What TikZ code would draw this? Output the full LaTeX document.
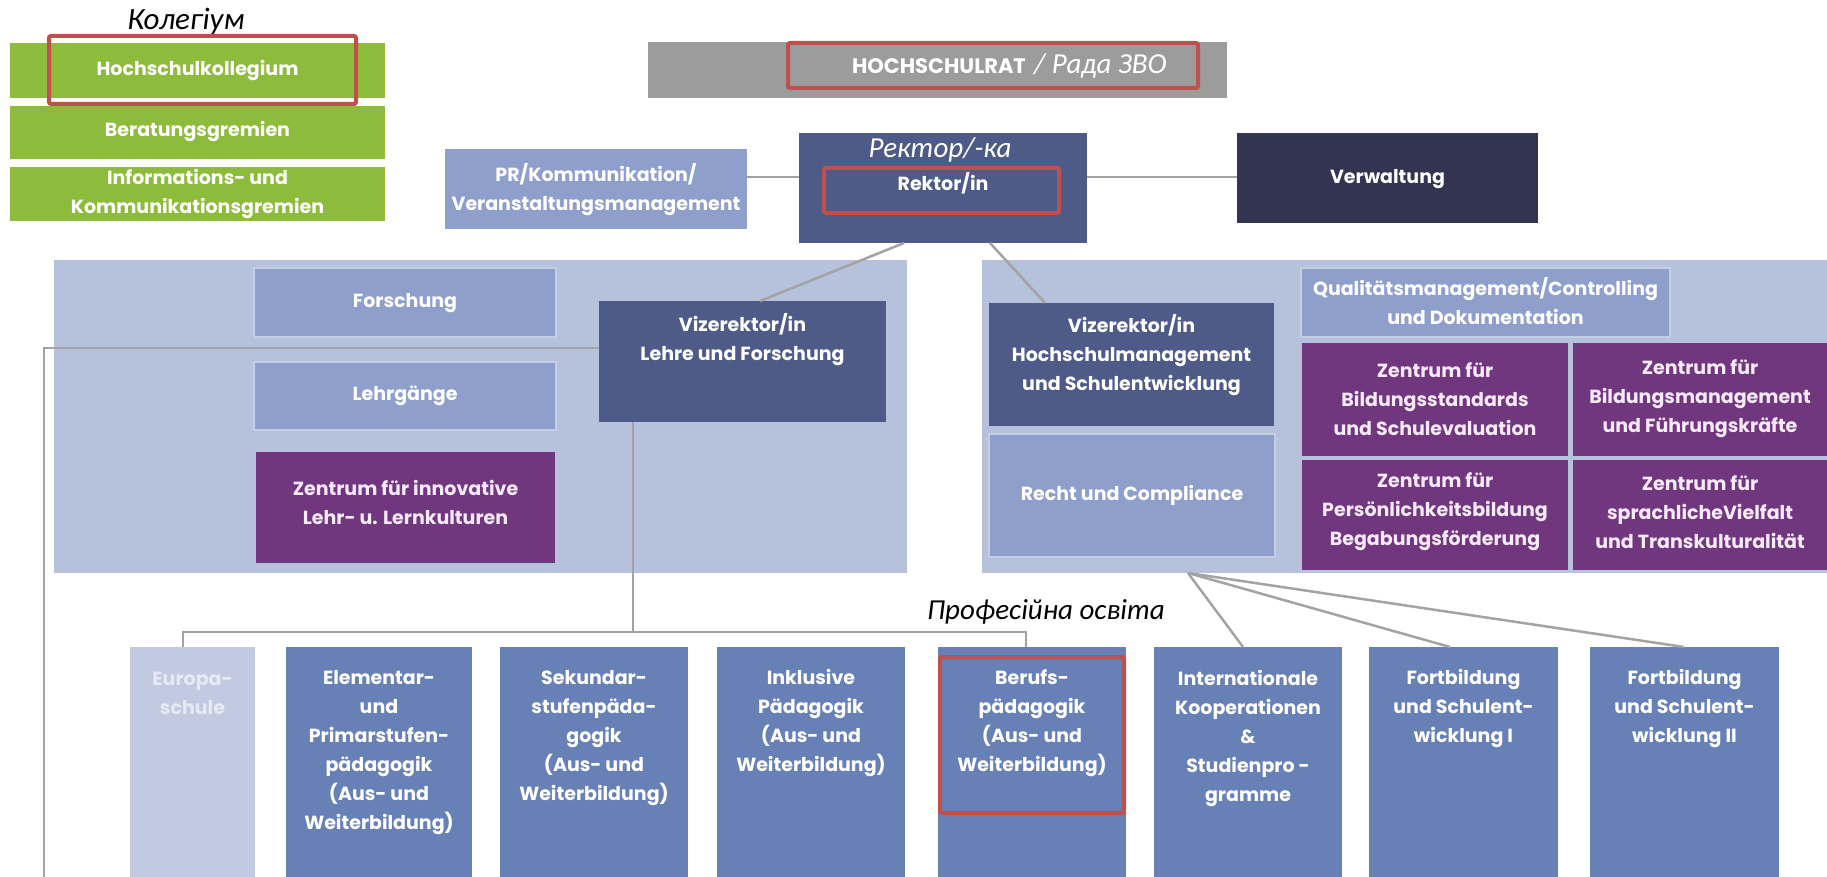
\documentclass[tikz,border=0pt]{standalone}
\usepackage{fontspec}
\setmainfont{Poppins}
\newfontfamily\ukfont{Carlito}
\usetikzlibrary{calc}
\definecolor{cgreen}{HTML}{8DBB3B}
\definecolor{cgrey}{HTML}{9C9C9C}
\definecolor{cpanel}{HTML}{B6C1DB}
\definecolor{clight}{HTML}{8D9FCA}
\definecolor{cedge}{HTML}{C6CEE5}
\definecolor{cdark}{HTML}{4E5B88}
\definecolor{cnavy}{HTML}{323450}
\definecolor{cpurple}{HTML}{70377F}
\definecolor{cmid}{HTML}{6781B7}
\definecolor{ceuro}{HTML}{C2CAE1}
\definecolor{ceurotext}{HTML}{E6EAF4}
\definecolor{cpink}{HTML}{F8EAF8}
\definecolor{cred}{HTML}{C0504D}
\definecolor{cline}{HTML}{A3A3A3}
\newcommand\bx[6]{\node[rectangle,#6,minimum width={(#4-#2)*1pt},minimum height={(#5-#3)*1pt}] (#1) at ({(#2+#4)/2},{(#3+#5)/2}) {};}
\newcommand\bxt[8]{\bx{#1}{#2}{#3}{#4}{#5}{#6}\node[#6,txt] (#1t) at ({(#2+#4)/2},#7) {#8};}
\begin{document}
\begin{tikzpicture}[x=1pt,y=-1pt,
  every node/.style={inner sep=0pt,outer sep=0pt,text=white},
  txt/.style={align=center,font=\bfseries\fontsize{19}{29}\selectfont,fill=none,draw=none},
  uk/.style={font=\ukfont\itshape\fontsize{29}{34}\selectfont,text=black},
  green/.style={fill=cgreen},
  light/.style={fill=clight},
  lightb/.style={fill=clight,draw=cedge,line width=2pt},
  dark/.style={fill=cdark},
  purple/.style={fill=cpurple,text=cpink},
  mid/.style={fill=cmid},
  euro/.style={fill=ceuro,text=ceurotext},
  frame/.style={draw=cred,line width=4pt,rounded corners=2pt},
  conn/.style={draw=cline,line width=2.5pt}]
\useasboundingbox (0,0) rectangle (1827,877);
\fill[white] (0,0) rectangle (1827,877);
% panels
\bx{lp}{54}{260}{907}{573}{fill=cpanel}
\bx{rp}{982}{260}{1827}{573}{fill=cpanel}
% top row
\bxt{g1}{10}{43}{385}{98}{green}{71}{Hochschulkollegium}
\bxt{g2}{10}{106}{385}{159}{green}{132}{Beratungsgremien}
\bxt{g3}{10}{167}{385}{221}{green}{194}{Informations- und\\Kommunikationsgremien}
\bx{hr}{648}{42}{1227}{98}{fill=cgrey}
\node[anchor=west,text=white] (hrt) at (852,66) {{\bfseries\fontsize{21}{24}\selectfont HOCHSCHULRAT}\,{\ukfont\itshape\fontsize{29}{34}\selectfont\ / Рада ЗВО}};
\bxt{pr}{445}{149}{747}{229}{light}{190}{PR/Kommunikation/\\Veranstaltungsmanagement}
\bxt{rek}{799}{133}{1087}{243}{dark}{183}{Rektor/in}
\bxt{verw}{1237}{133}{1538}{223}{fill=cnavy}{179}{Verwaltung}
% left panel
\bxt{fo}{254}{268}{556}{337}{lightb}{303}{Forschung}
\bxt{lg}{254}{362}{556}{430}{lightb}{396}{Lehrgänge}
\bxt{zi}{256}{452}{555}{563}{purple}{502}{Zentrum für innovative\\Lehr- u. Lernkulturen}
\bxt{vl}{599}{301}{886}{422}{dark}{340}{Vizerektor/in\\Lehre und Forschung}
% right panel
\bxt{vhm}{989}{303}{1274}{426}{dark}{355}{Vizerektor/in\\Hochschulmanagement\\und Schulentwicklung}
\bxt{rc}{989}{434}{1275}{557}{lightb}{495}{Recht und Compliance}
\bxt{qm}{1301}{268}{1670}{337}{lightb}{301}{Qualitätsmanagement/Controlling\\und Dokumentation}
\bxt{za}{1302}{343}{1568}{456}{purple}{399}{Zentrum für\\Bildungsstandards\\und Schulevaluation}
\bxt{zb}{1573}{343}{1827}{456}{purple}{399}{Zentrum für\\Bildungsmanagement\\und Führungskräfte}
\bxt{zc}{1302}{460}{1568}{570}{purple}{512}{Zentrum für\\Persönlichkeitsbildung\\Begabungsförderung}
\bxt{zd}{1573}{460}{1827}{570}{purple}{512}{Zentrum für\\sprachlicheVielfalt\\und Transkulturalität}
% bottom row
\bxt{eu}{130}{647}{255}{877}{euro}{693}{Europa-\\schule}
\bxt{el}{286}{647}{472}{877}{mid}{753}{Elementar-\\und\\Primarstufen-\\pädagogik\\(Aus- und\\Weiterbildung)}
\bxt{se}{500}{647}{688}{877}{mid}{738}{Sekundar-\\stufenpäda-\\gogik\\(Aus- und\\Weiterbildung)}
\bxt{ik}{717}{647}{905}{877}{mid}{723}{Inklusive\\Pädagogik\\(Aus- und\\Weiterbildung)}
\bxt{bp}{938}{647}{1126}{877}{mid}{723}{Berufs-\\pädagogik\\(Aus- und\\Weiterbildung)}
\bxt{int}{1154}{647}{1342}{877}{mid}{738}{Internationale\\Kooperationen\\\&\\Studienpro -\\gramme}
\bxt{f1}{1369}{647}{1558}{877}{mid}{708}{Fortbildung\\und Schulent-\\wicklung I}
\bxt{f2}{1590}{647}{1779}{877}{mid}{708}{Fortbildung\\und Schulent-\\wicklung II}
% connectors
\coordinate (yl) at (0,177);
\draw[conn] (pr.east |- yl) -- (rek.west |- yl);
\draw[conn] (rek.east |- yl) -- (verw.west |- yl);
\coordinate (vla) at (760,301);
\coordinate (vhma) at (1045,303);
\draw[conn] ($(rek.south west)+(105,0)$) -- (vla);
\draw[conn] ($(rek.south west)+(191,0)$) -- (vhma);
\coordinate (lt) at (44,348);
\coordinate (lb) at (44,877);
\draw[conn] (vl.west |- lt) -- (lt) -- (lb);
\coordinate (vlb) at (633,422);
\coordinate (busL) at (183,632);
\coordinate (busR) at (1026,632);
\draw[conn] (vlb) -- (vlb |- busL);
\draw[conn] (eu.north -| busL) -- (busL) -- (busR) -- (bp.north -| busR);
\coordinate (fan) at (1188,573);
\draw[conn] (fan) -- ($(int.north west)+(89,0)$);
\draw[conn] (fan) -- ($(f1.north west)+(81,0)$);
\draw[conn] (fan) -- ($(f2.north west)+(94,0)$);
% annotations
\node[uk,font=\ukfont\itshape\fontsize{31}{34}\selectfont] (kol) at (186,21) {Колегіум};
\node[uk,text=white] (rekuk) at (940,150) {Ректор/-ка};
\node[uk] (prof) at (1046,612) {Професійна освіта};
\draw[frame] (49,36) rectangle (356,104);
\draw[frame] (788,43) rectangle (1198,88);
\draw[frame] (824,168) rectangle (1059,213);
\draw[frame] (940,657) rectangle (1124,813);
\end{tikzpicture}
\end{document}
